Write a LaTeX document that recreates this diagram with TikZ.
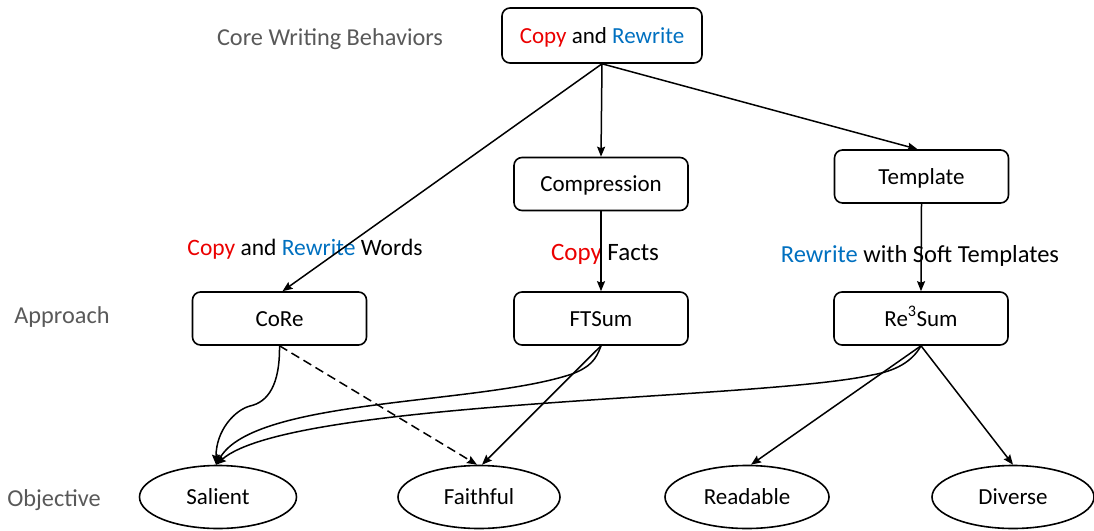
\documentclass[tikz,border=0pt]{standalone}
\usepackage{fontspec}
\setmainfont{Carlito}
\usetikzlibrary{arrows.meta,shapes.geometric}
\definecolor{cred}{RGB}{235,0,0}
\definecolor{cblue}{RGB}{0,112,192}
\definecolor{cgray}{RGB}{89,89,89}
\tikzset{
  box/.style={draw,line width=1.6pt,rounded corners=8pt,minimum width=174pt,minimum height=53pt,inner sep=0pt,text height=15pt,text depth=0pt,align=center},
  oval/.style={draw,line width=1.6pt,ellipse,minimum width=162pt,minimum height=63pt,inner sep=0pt,text height=15pt,text depth=0pt},
  rowlabel/.style={text=cgray,anchor=base,inner sep=0pt,font=\fontsize{24.3}{28}\selectfont},
  edgelabel/.style={anchor=base,inner sep=0pt},
  link/.style={line width=1.5pt,-{Stealth[length=10pt,width=8pt,inset=1.5pt]}},
}
\newcommand{\cp}{\textcolor{cred}{Copy}}
\newcommand{\rw}{\textcolor{cblue}{Rewrite}}
\begin{document}
\begin{tikzpicture}[x=1pt,y=-1pt,font=\fontsize{23}{28}\selectfont]
\useasboundingbox (0,0) rectangle (1094,530);
% row labels
\node[rowlabel] (lcwb) at (330,45) {Core Writing Behaviors};
\node[rowlabel] (lapp) at (62,323) {Approach};
\node[rowlabel] (lobj) at (54,506) {Objective};
% edge labels
\node[edgelabel,font=\fontsize{23.5}{28}\selectfont] (ew) at (305,255) {\cp{} and \rw{} Words};
\node[edgelabel,font=\fontsize{25}{28}\selectfont] (ef) at (605,260) {\cp{} Facts};
\node[edgelabel,font=\fontsize{24.5}{28}\selectfont] (et) at (920,262) {\rw{} with Soft Templates};
% boxes
\node[box,minimum width=200pt,minimum height=55pt] (cr) at (602,35.5) {\cp{} and \rw{}};
\node[box] (comp) at (601,184) {Compression};
\node[box] (tmpl) at (921.5,176.5) {Template};
\node[box] (core) at (279.5,318.5) {CoRe};
\node[box] (fts) at (601,318.5) {FTSum};
\node[box] (re3) at (921,318.5) {Re\textsuperscript{3}Sum};
% ellipses
\node[oval,minimum width=157pt] (sal) at (218,497) {Salient};
\node[oval] (fai) at (479,497) {Faithful};
\node[oval,minimum width=164pt] (rea) at (747,497) {Readable};
\node[oval] (div) at (1013,497) {Diverse};
% connectors
\draw[link] (cr.south) -- ([xshift=3pt]core.north);
\draw[link] (cr.south) -- (comp.north);
\draw[link] (cr.south) -- ([xshift=-4pt]tmpl.north);
\draw[link] (comp.south) -- (fts.north);
\draw[link] (tmpl.south) -- (re3.north);
\coordinate (k) at (250,406);
\draw[link] (core.south) .. controls (280,385) and (268,402) .. (k) .. controls (235,410) and (216,430) .. ([xshift=-2pt]sal.north);
\draw[link,dash pattern=on 9pt off 5pt] (core.south) -- ([xshift=-2pt]fai.north);
\coordinate (f1) at (572,374);
\draw[link] (fts.south) .. controls (596,360) and (590,367) .. (f1) .. controls (480,405) and (255,398) .. ([xshift=-2pt]sal.north);
\draw[link] (fts.south) -- ([xshift=3pt]fai.north);
\coordinate (r1) at (872,375);
\draw[link] (re3.south) .. controls (912,362) and (895,371) .. (r1) .. controls (760,400) and (290,400) .. ([xshift=-2pt]sal.north);
\draw[link] (re3.south) -- ([xshift=4pt]rea.north);
\draw[link] (re3.south) -- (div.north);
\end{tikzpicture}
\end{document}
